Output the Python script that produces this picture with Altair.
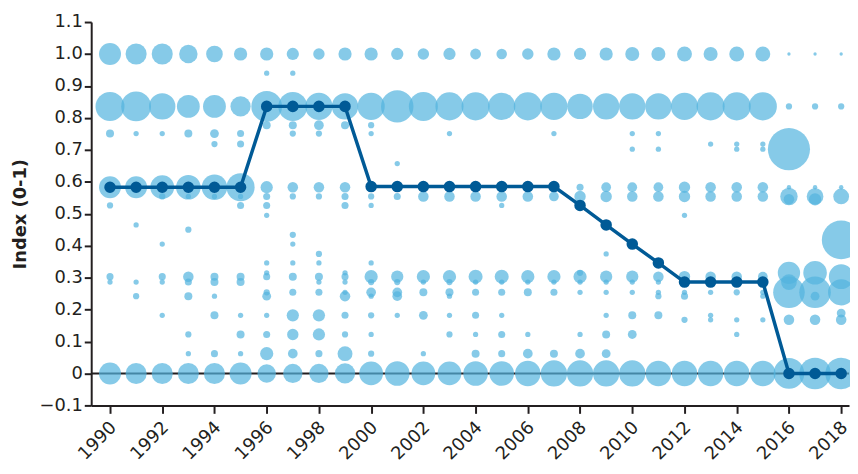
import altair as alt
import pandas as pd

# ---- data -------------------------------------------------------------
years = [1990, 1991, 1992, 1993, 1994, 1995, 1996, 1997, 1998, 1999,
         2000, 2001, 2002, 2003, 2004, 2005, 2006, 2007, 2008, 2009,
         2010, 2011, 2012, 2013, 2014, 2015, 2016, 2017, 2018]

median_index = [0.583, 0.583, 0.583, 0.583, 0.583, 0.583,
                0.836, 0.836, 0.836, 0.836,
                0.585, 0.585, 0.585, 0.585, 0.585, 0.585, 0.585, 0.585,
                0.526, 0.465, 0.405, 0.346,
                0.286, 0.286, 0.286, 0.286,
                0.0, 0.0, 0.0]

# index levels observed per year
bubble_index = {
    1990: [1.0, 0.836, 0.751, 0.583, 0.526, 0.303, 0.286, 0.0],
    1991: [1.0, 0.836, 0.751, 0.583, 0.465, 0.286, 0.242, 0.0],
    1992: [1.0, 0.836, 0.751, 0.583, 0.554, 0.405, 0.303, 0.286, 0.182, 0.0],
    1993: [1.0, 0.836, 0.751, 0.583, 0.554, 0.45, 0.303, 0.286, 0.242, 0.122, 0.062, 0.0],
    1994: [1.0, 0.836, 0.751, 0.718, 0.583, 0.554, 0.303, 0.286, 0.242, 0.182, 0.062, 0.0],
    1995: [1.0, 0.836, 0.751, 0.718, 0.583, 0.554, 0.526, 0.303, 0.286, 0.182, 0.122, 0.062, 0.0],
    1996: [1.0, 0.94, 0.836, 0.777, 0.583, 0.554, 0.526, 0.495, 0.346, 0.315, 0.303, 0.254, 0.242, 0.182, 0.122, 0.062, 0.0],
    1997: [1.0, 0.94, 0.836, 0.777, 0.751, 0.583, 0.554, 0.434, 0.405, 0.346, 0.303, 0.254, 0.182, 0.122, 0.062, 0.0],
    1998: [1.0, 0.836, 0.777, 0.751, 0.583, 0.554, 0.374, 0.346, 0.303, 0.286, 0.254, 0.182, 0.122, 0.062, 0.0],
    1999: [1.0, 0.836, 0.777, 0.583, 0.554, 0.526, 0.315, 0.303, 0.286, 0.254, 0.242, 0.182, 0.122, 0.062, 0.0],
    2000: [1.0, 0.836, 0.777, 0.751, 0.583, 0.554, 0.526, 0.346, 0.303, 0.286, 0.254, 0.242, 0.182, 0.122, 0.062, 0.0],
    2001: [1.0, 0.836, 0.657, 0.583, 0.554, 0.303, 0.286, 0.254, 0.242, 0.182, 0.0],
    2002: [1.0, 0.836, 0.583, 0.554, 0.303, 0.286, 0.254, 0.182, 0.062, 0.0],
    2003: [1.0, 0.836, 0.751, 0.583, 0.554, 0.303, 0.286, 0.254, 0.242, 0.182, 0.122, 0.0],
    2004: [1.0, 0.836, 0.583, 0.554, 0.303, 0.286, 0.254, 0.182, 0.122, 0.062, 0.0],
    2005: [1.0, 0.836, 0.583, 0.554, 0.526, 0.303, 0.286, 0.254, 0.182, 0.122, 0.062, 0.0],
    2006: [1.0, 0.836, 0.583, 0.554, 0.303, 0.286, 0.254, 0.122, 0.062, 0.0],
    2007: [1.0, 0.836, 0.751, 0.583, 0.554, 0.303, 0.286, 0.254, 0.062, 0.0],
    2008: [1.0, 0.836, 0.583, 0.554, 0.315, 0.303, 0.286, 0.254, 0.122, 0.062, 0.0],
    2009: [1.0, 0.836, 0.583, 0.554, 0.374, 0.303, 0.286, 0.254, 0.182, 0.122, 0.062, 0.0],
    2010: [1.0, 0.836, 0.751, 0.702, 0.583, 0.554, 0.303, 0.286, 0.254, 0.182, 0.122, 0.0],
    2011: [1.0, 0.836, 0.751, 0.702, 0.583, 0.554, 0.303, 0.286, 0.254, 0.242, 0.182, 0.0],
    2012: [1.0, 0.836, 0.583, 0.554, 0.495, 0.303, 0.254, 0.242, 0.168, 0.0],
    2013: [1.0, 0.836, 0.718, 0.583, 0.554, 0.303, 0.254, 0.182, 0.168, 0.0],
    2014: [1.0, 0.836, 0.718, 0.702, 0.583, 0.554, 0.303, 0.254, 0.168, 0.122, 0.0],
    2015: [1.0, 0.836, 0.718, 0.702, 0.583, 0.554, 0.303, 0.254, 0.242, 0.168, 0.0],
    2016: [1.0, 0.836, 0.702, 0.583, 0.554, 0.545, 0.315, 0.286, 0.254, 0.168, 0.0],
    2017: [1.0, 0.836, 0.583, 0.554, 0.545, 0.315, 0.254, 0.242, 0.168, 0.0],
    2018: [1.0, 0.836, 0.583, 0.554, 0.418, 0.303, 0.254, 0.189, 0.168, 0.0],
}

# relative weight (share of observations) of each level, same order
bubble_weight = {
    1990: [17.4, 30.3, 2.3, 17.4, 1.4, 1.8, 1.0, 17.4],
    1991: [16.0, 32.1, 1.0, 17.4, 1.0, 1.0, 1.4, 16.0],
    1992: [16.0, 25.0, 1.0, 20.3, 1.4, 1.0, 1.8, 1.0, 1.0, 16.0],
    1993: [12.3, 18.8, 2.3, 21.8, 1.0, 1.4, 4.0, 1.8, 2.3, 1.4, 1.0, 16.0],
    1994: [10.0, 18.8, 2.8, 1.4, 23.4, 1.0, 2.3, 2.3, 1.0, 2.3, 1.8, 16.0],
    1995: [6.3, 14.7, 1.8, 1.8, 28.4, 1.0, 1.8, 2.3, 2.3, 1.0, 2.3, 1.0, 17.4],
    1996: [6.3, 1.0, 34.0, 2.3, 5.4, 1.8, 1.8, 1.0, 1.0, 1.0, 1.8, 1.4, 2.8, 1.0, 1.8, 6.3, 12.3],
    1997: [5.4, 1.0, 30.3, 2.3, 1.4, 4.0, 1.4, 1.4, 1.0, 1.0, 2.3, 1.8, 5.4, 4.7, 3.4, 13.4],
    1998: [4.7, 26.7, 3.4, 1.4, 4.0, 1.4, 1.4, 1.0, 2.3, 1.0, 1.8, 5.4, 5.4, 1.8, 13.4],
    1999: [6.3, 25.0, 2.3, 4.0, 1.8, 1.8, 1.0, 1.8, 1.0, 1.0, 4.0, 1.8, 1.4, 8.0, 14.7],
    2000: [6.3, 26.7, 1.4, 1.0, 3.4, 1.4, 1.0, 1.0, 6.3, 1.4, 3.4, 1.0, 1.4, 1.0, 1.4, 20.3],
    2001: [5.4, 38.0, 1.0, 2.8, 1.8, 5.4, 1.4, 3.4, 3.4, 1.0, 21.8],
    2002: [4.7, 30.3, 2.8, 4.0, 6.3, 1.0, 2.3, 2.8, 1.0, 20.3],
    2003: [5.4, 28.4, 1.0, 2.8, 4.0, 6.3, 1.4, 2.3, 1.0, 1.0, 1.4, 20.3],
    2004: [4.2, 28.4, 2.8, 4.0, 7.1, 1.0, 1.8, 1.8, 1.0, 2.3, 21.8],
    2005: [4.0, 26.7, 2.8, 4.0, 1.0, 7.1, 1.0, 1.8, 1.0, 1.8, 1.8, 21.8],
    2006: [4.7, 28.4, 2.8, 4.0, 6.3, 1.0, 2.3, 1.0, 3.4, 23.4],
    2007: [6.3, 26.7, 1.0, 2.8, 3.4, 6.3, 1.0, 1.8, 2.3, 25.0],
    2008: [5.4, 23.4, 1.8, 4.7, 1.4, 6.3, 1.0, 1.0, 1.0, 3.4, 25.0],
    2009: [6.3, 25.0, 3.4, 4.7, 1.0, 5.4, 1.0, 1.0, 1.0, 2.3, 2.8, 25.0],
    2010: [7.1, 25.0, 1.0, 1.0, 3.4, 4.0, 5.4, 1.0, 1.0, 2.3, 2.8, 25.0],
    2011: [7.1, 25.0, 1.0, 1.0, 3.4, 4.0, 4.0, 1.0, 1.0, 1.4, 2.3, 23.4],
    2012: [8.0, 26.7, 4.7, 4.7, 1.0, 4.7, 1.0, 1.8, 1.4, 23.4],
    2013: [7.1, 28.4, 1.0, 4.0, 4.0, 4.0, 1.0, 1.0, 1.0, 23.4],
    2014: [8.0, 28.4, 1.0, 1.0, 4.0, 4.0, 4.0, 1.4, 1.0, 1.0, 23.4],
    2015: [8.0, 28.4, 1.0, 1.0, 4.0, 4.0, 3.4, 1.0, 1.0, 1.0, 23.4],
    2016: [0.4, 1.4, 64.0, 0.7, 11.0, 4.0, 18.0, 9.0, 36.0, 4.0, 34.0],
    2017: [0.4, 1.4, 0.7, 10.0, 5.4, 20.0, 36.0, 2.8, 4.0, 36.0],
    2018: [0.4, 1.4, 0.7, 9.0, 54.0, 22.0, 25.0, 2.8, 4.0, 36.0],
}

x_tick_years = [1990, 1992, 1994, 1996, 1998, 2000, 2002, 2004, 2006, 2008,
                2010, 2012, 2014, 2016, 2018]
y_ticks = [-0.1, 0.0, 0.1, 0.2, 0.3, 0.4, 0.5, 0.6, 0.7, 0.8, 0.9, 1.0, 1.1]

# ---- tables -----------------------------------------------------------
rows = []
for yr in years:
    for v, w in zip(bubble_index[yr], bubble_weight[yr]):
        rows.append({"year": yr, "index": v, "weight": w})
bubbles = pd.DataFrame(rows)
median = pd.DataFrame({"year": years, "index": median_index})
zero = pd.DataFrame({"index": [0.0]})

FONT = "DejaVu Sans"
INK = "#231f20"
LIGHT = "#53b3de"
DARK = "#005a96"

x_enc = alt.X(
    "year:Q",
    scale=alt.Scale(domain=[1989.28, 2018.3], nice=False, zero=False),
    axis=alt.Axis(values=x_tick_years, format="d", labelAngle=-45, title=None,
                  tickSize=8, labelPadding=5, labelFontSize=18, labelOffset=-3),
)
y_enc = alt.Y(
    "index:Q",
    scale=alt.Scale(domain=[-0.1, 1.1], nice=False, zero=False),
    axis=alt.Axis(values=y_ticks, title="Index (0-1)", tickSize=7,
                  labelExpr="datum.value == 0 ? '0' : format(datum.value, '.1f')",
                  titlePadding=10, labelFontSize=18),
)

zero_rule = alt.Chart(zero).mark_rule(color=INK, strokeWidth=2).encode(y=y_enc)

bubble_layer = alt.Chart(bubbles).mark_circle(color=LIGHT, opacity=0.7).encode(
    x=x_enc,
    y=y_enc,
    size=alt.Size("weight:Q", scale=alt.Scale(domain=[0, 100], range=[0, 2827]),
                  legend=None),
)

line_layer = alt.Chart(median).mark_line(color=DARK, strokeWidth=3.5).encode(
    x=x_enc, y=y_enc)
point_layer = alt.Chart(median).mark_point(
    filled=True, color=DARK, size=135, opacity=1).encode(x=x_enc, y=y_enc)

chart = alt.layer(zero_rule, bubble_layer, line_layer, point_layer).properties(
    width=765,
    height=387,
    padding={"left": 84, "top": 12, "right": 1, "bottom": 59},
    autosize=alt.AutoSizeParams(type="none"),
).configure_view(stroke=None).configure_axis(
    grid=False,
    domainColor=INK,
    domainWidth=2,
    tickColor=INK,
    tickWidth=2,
    labelFont=FONT,
    labelColor=INK,
    titleFont=FONT,
    titleFontSize=18,
    titleFontWeight="bold",
    titleColor=INK,
)

chart.save("out.html", embed_options={"renderer": "svg", "actions": False})
